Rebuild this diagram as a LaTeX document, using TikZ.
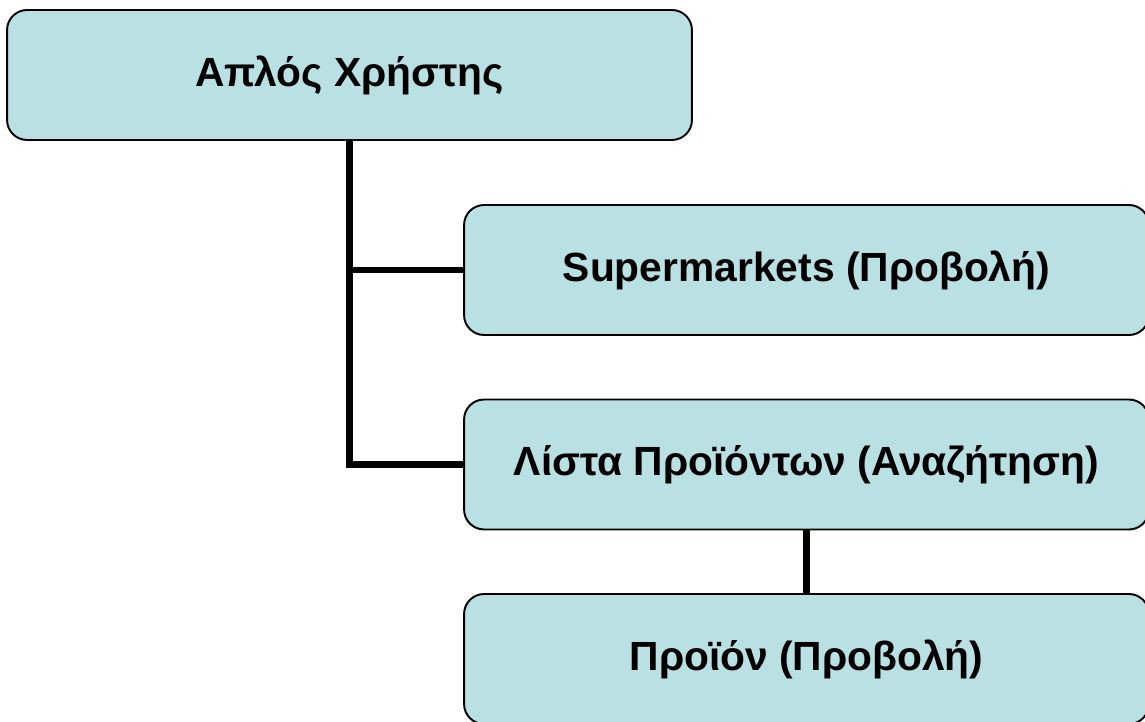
\documentclass[tikz,border=0pt]{standalone}
\usepackage{fontspec}
\setmainfont{Liberation Sans}
\definecolor{boxfill}{RGB}{185,224,227}

\tikzstyle{box} = [rectangle, rounded corners=0.4cm, draw=black, line width=1.1pt, fill=boxfill, minimum width=13.7cm, minimum height=2.6cm, inner sep=0pt, font=\fontsize{23.2}{28}\selectfont\bfseries]
\tikzstyle{link} = [line width=3.5pt]

\begin{document}
\begin{tikzpicture}[x=0.02cm,y=-0.02cm]
      \useasboundingbox (0,0) rectangle (1145,722);
      \node[box] (user) at (349.5,75) {Απλός Χρήστης};
      \node[box] (super) at (806.5,270) {Supermarkets (Προβολή)};
      \node[box] (list) at (806.5,464.5) {Λίστα Προϊόντων (Αναζήτηση)};
      \node[box] (prod) at (806.5,659) {Προϊόν (Προβολή)};

      \draw[link] (user.south) -- (user.south |- list.west) -- (list.west);
      \draw[link] (user.south |- super.west) -- (super.west);
      \draw[link] (list.south) -- (prod.north);
    \end{tikzpicture}
\end{document}
